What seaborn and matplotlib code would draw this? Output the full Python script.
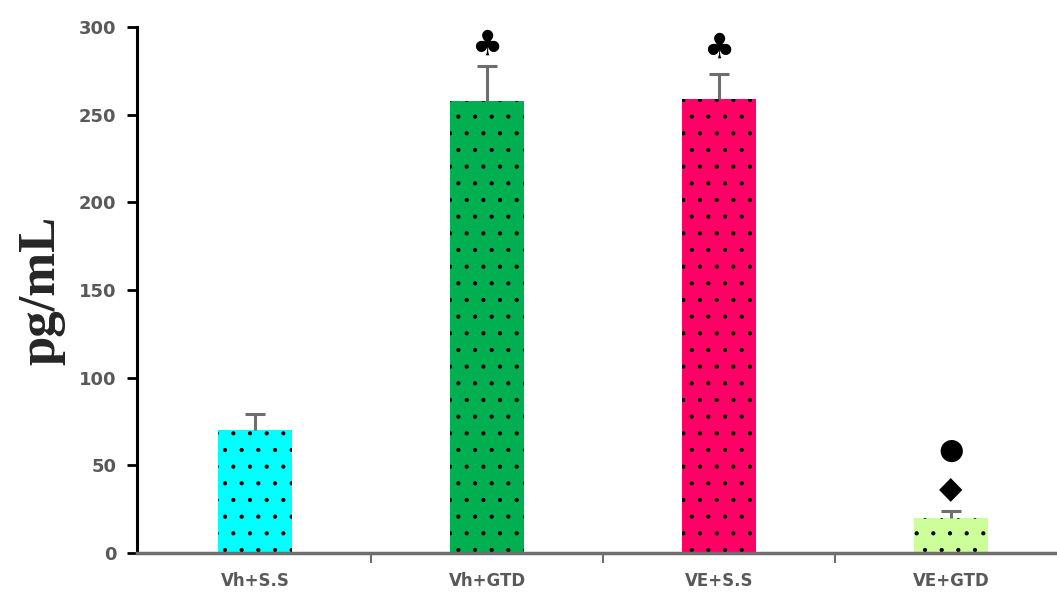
import matplotlib
matplotlib.use("Agg")
import matplotlib.pyplot as plt
import seaborn as sns
import pandas as pd
import numpy as np

categories = ["Vh+S.S", "Vh+GTD", "VE+S.S", "VE+GTD"]
values = [70, 258, 259, 20]
errors = [9.5, 20, 14, 4]
colors = ["#00FFFF", "#00B050", "#FF0066", "#CCFF99"]

sns.set_style("white")
plt.rcParams["hatch.color"] = "black"
plt.rcParams["hatch.linewidth"] = 0.6

fig = plt.figure(figsize=(10.57, 5.99), dpi=100)
ax = fig.add_axes([0.13, 0.077, 0.87, 0.878])

df = pd.DataFrame({"group": categories, "value": values})
sns.barplot(data=df, x="group", y="value", hue="group", palette=colors,
            legend=False, width=0.32, ax=ax, errorbar=None, saturation=1)
for p in ax.patches:
    p.set_hatch(".")
    p.set_edgecolor("black")
    p.set_linewidth(0)

xs = np.arange(len(categories))
tops = np.array(values) + np.array(errors)
ax.vlines(xs, values, tops, color="#6E6E6E", linewidth=2.2, zorder=1)
ax.hlines(tops, xs - 0.045, xs + 0.045, color="#6E6E6E", linewidth=2.2, zorder=1)

# significance symbols
ax.text(1, 290, "\u2663", ha="center", va="center", fontsize=25, color="black")
ax.text(2, 288, "\u2663", ha="center", va="center", fontsize=25, color="black")
ax.text(3, 36, "\u25C6", ha="center", va="center", fontsize=22, color="black")
ax.text(3, 58, "\u25CF", ha="center", va="center", fontsize=21, color="black")

ax.set_ylim(0, 300)
ax.set_xlim(-0.507, 3.457)
ax.set_yticks(range(0, 301, 50))
ax.set_xlabel("")
ax.set_ylabel("pg/mL", fontsize=38, fontweight="bold", family="Liberation Serif", labelpad=10)

for lab in ax.get_yticklabels():
    lab.set_fontweight("bold"); lab.set_color("#595959"); lab.set_fontsize(13)
for lab in ax.get_xticklabels():
    lab.set_fontweight("bold"); lab.set_color("#595959"); lab.set_fontsize(12)

ax.tick_params(axis="y", direction="out", length=7, width=2, color="black", left=True, pad=8)
ax.tick_params(axis="x", length=0, pad=14)
ax.set_xticks([0.5, 1.5, 2.5], minor=True)
ax.tick_params(axis="x", which="minor", direction="out", length=7, width=1.5, color="#6E6E6E", bottom=True)

for s in ["top", "right"]:
    ax.spines[s].set_visible(False)
ax.spines["left"].set_color("black")
ax.spines["left"].set_linewidth(2.2)
ax.spines["bottom"].set_color("#6E6E6E")
ax.spines["bottom"].set_linewidth(2.5)

fig.savefig("out.png", dpi=100)
